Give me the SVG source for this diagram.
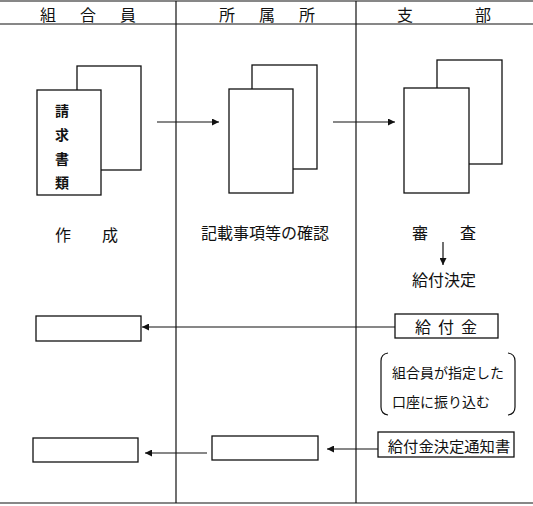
<svg xmlns="http://www.w3.org/2000/svg" width="533" height="506" viewBox="0 0 533 506">
<style>
.ln{stroke:#111;stroke-width:1.2;fill:none}
.bx{stroke:#111;stroke-width:1.3;fill:#fff}
.t{font-family:"Noto Sans CJK JP","Noto Sans CJK SC",sans-serif;font-size:16px;fill:#111;text-anchor:middle;dominant-baseline:central}
.s{font-size:14px}
.v{font-size:14px;font-weight:bold}
.arr{stroke:#111;stroke-width:1.2;fill:none;marker-end:url(#ah)}
</style>
<defs>
<marker id="ah" viewBox="0 0 10 10" refX="10" refY="5" markerWidth="8" markerHeight="7" markerUnits="userSpaceOnUse" orient="auto">
<path d="M0,0 L10,5 L0,10 Z" fill="#111"/>
</marker>
</defs>
<rect width="533" height="506" fill="#fff"/>
<g id="lanes">
<line class="ln" x1="0" y1="1" x2="533" y2="1"/>
<line class="ln" x1="0" y1="24" x2="533" y2="24"/>
<line class="ln" x1="0" y1="503" x2="533" y2="503"/>
<line class="ln" x1="176" y1="1" x2="176" y2="503"/>
<line class="ln" x1="356" y1="1" x2="356" y2="503"/>
<text class="t" x="48" y="14">組</text>
<text class="t" x="88" y="14">合</text>
<text class="t" x="128" y="14">員</text>
<text class="t" x="227" y="14">所</text>
<text class="t" x="267" y="14">属</text>
<text class="t" x="307" y="14">所</text>
<text class="t" x="405" y="14">支</text>
<text class="t" x="483" y="14">部</text>
</g>
<g id="doc1">
<rect class="bx" x="77" y="66" width="64" height="104"/>
<rect class="bx" x="37" y="90" width="64" height="105"/>
<text class="t v" x="62" y="110">請</text>
<text class="t v" x="62" y="134">求</text>
<text class="t v" x="62" y="158">書</text>
<text class="t v" x="62" y="182">類</text>
<text class="t" x="63" y="234">作</text>
<text class="t" x="110" y="234">成</text>
</g>
<g id="doc2">
<rect class="bx" x="252" y="65" width="65" height="104"/>
<rect class="bx" x="229" y="89" width="64" height="104"/>
<text class="t" x="265" y="232">記載事項等の確認</text>
</g>
<g id="doc3">
<rect class="bx" x="437" y="60" width="65" height="104"/>
<rect class="bx" x="404" y="88" width="65" height="105"/>
<text class="t" x="420" y="232">審</text>
<text class="t" x="468" y="232">査</text>
<text class="t" x="444" y="279">給付決定</text>
</g>
<g id="box-kyufukin">
<rect class="bx" x="395" y="314" width="103" height="24"/>
<text class="t" x="423" y="326">給</text>
<text class="t" x="446" y="326">付</text>
<text class="t" x="469" y="326">金</text>
</g>
<g id="box-member1">
<rect class="bx" x="36" y="316" width="105" height="25"/>
</g>
<g id="note">
<path class="ln" d="M388,353 Q381,354 381,361 L381,407 Q381,414 388,415"/>
<path class="ln" d="M508,353 Q515,354 515,361 L515,407 Q515,414 508,415"/>
<text class="t s" x="448" y="372">組合員が指定した</text>
<text class="t s" x="392" y="401" style="text-anchor:start">口座に振り込む</text>
</g>
<g id="box-member2">
<rect class="bx" x="33" y="438" width="105" height="24"/>
</g>
<g id="box-office">
<rect class="bx" x="212" y="436" width="106" height="24"/>
</g>
<g id="box-notice">
<rect class="bx" x="378" y="432" width="136" height="25"/>
<text class="t" x="449" y="445" style="font-size:15.3px">給付金決定通知書</text>
</g>
<g id="connectors">
<line class="arr" x1="157" y1="122" x2="219" y2="122"/>
<line class="arr" x1="333" y1="122" x2="395" y2="122"/>
<line class="arr" x1="443" y1="242" x2="443" y2="265"/>
<line class="arr" x1="395" y1="327" x2="142" y2="327"/>
<line class="arr" x1="207" y1="453" x2="145" y2="453"/>
<line class="arr" x1="378" y1="449" x2="327" y2="449"/>
</g>
</svg>
